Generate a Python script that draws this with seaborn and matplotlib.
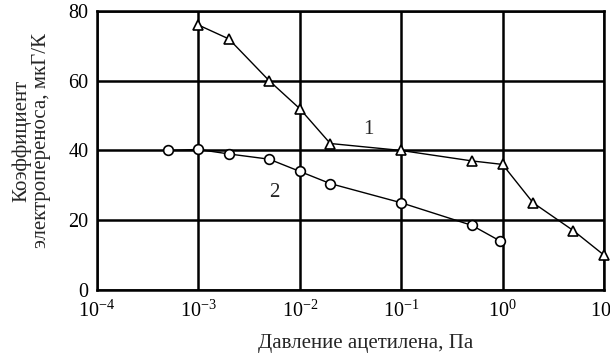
import matplotlib
matplotlib.use("Agg")
import matplotlib.pyplot as plt
import seaborn as sns
import pandas as pd
from matplotlib.ticker import FixedLocator, FixedFormatter, NullLocator

# Curve 1: triangles
p1 = [1e-3, 2e-3, 5e-3, 1e-2, 2e-2, 1e-1, 5e-1, 1.0, 2.0, 5.0, 10.0]
k1 = [76, 72, 60, 52, 42, 40, 37, 36, 25, 17, 10]

# Curve 2: circles
p2 = [5e-4, 1e-3, 2e-3, 5e-3, 1e-2, 2e-2, 1e-1, 5e-1, 0.95]
k2 = [40, 40.3, 39, 37.5, 34, 30.5, 25, 18.5, 14]

x_ticks = [1e-4, 1e-3, 1e-2, 1e-1, 1e0, 1e1]
x_labels = [r"$10^{-4}$", r"$10^{-3}$", r"$10^{-2}$", r"$10^{-1}$", r"$10^{0}$", r"$10^{1}$"]
y_ticks = [0, 20, 40, 60, 80]

sns.set_style("white")
plt.rcParams["font.family"] = ["Liberation Serif", "DejaVu Serif"]
plt.rcParams["mathtext.fontset"] = "custom"
plt.rcParams["mathtext.rm"] = "Liberation Serif"
plt.rcParams["mathtext.it"] = "Liberation Serif"

fig = plt.figure(figsize=(6.10, 3.57), dpi=100)
ax = fig.add_axes([0.159, 0.188, 0.831, 0.781])

d1 = pd.DataFrame({"p": p1, "k": k1})
d2 = pd.DataFrame({"p": p2, "k": k2})

mk = dict(color="black", linewidth=1.0, markersize=7, markerfacecolor="white",
          markeredgecolor="black", markeredgewidth=1.2, zorder=5, clip_on=False)
sns.lineplot(data=d1, x="p", y="k", marker="^", ax=ax, **mk)
sns.lineplot(data=d2, x="p", y="k", marker="o", ax=ax, **mk)

ax.set_xscale("log")
ax.set_xlim(1e-4, 10)
ax.set_ylim(0, 80)
ax.xaxis.set_major_locator(FixedLocator(x_ticks))
ax.xaxis.set_major_formatter(FixedFormatter(x_labels))
ax.xaxis.set_minor_locator(NullLocator())
ax.set_yticks(y_ticks)

ax.grid(True, color="black", linewidth=1.8)
for s in ax.spines.values():
    s.set_visible(True)
    s.set_color("black")
    s.set_linewidth(1.8)
ax.tick_params(axis="both", length=0, labelsize=14.5, colors="black")
ax.tick_params(axis="x", pad=8)
ax.tick_params(axis="y", pad=6)

ax.set_xlabel("Давление ацетилена, Па", fontsize=15)
ax.xaxis.set_label_coords(0.53, -0.16)
ax.set_ylabel("Коэффициент\nэлектропереноса, мкГ/К", fontsize=15,
              linespacing=1.05)
ax.yaxis.set_label_coords(-0.09, 0.535)

ax.text(4.8e-2, 46, "1", fontsize=15, ha="center", va="center")
ax.text(5.6e-3, 28, "2", fontsize=15, ha="center", va="center")

fig.savefig("out.png", dpi=100, facecolor="white")
